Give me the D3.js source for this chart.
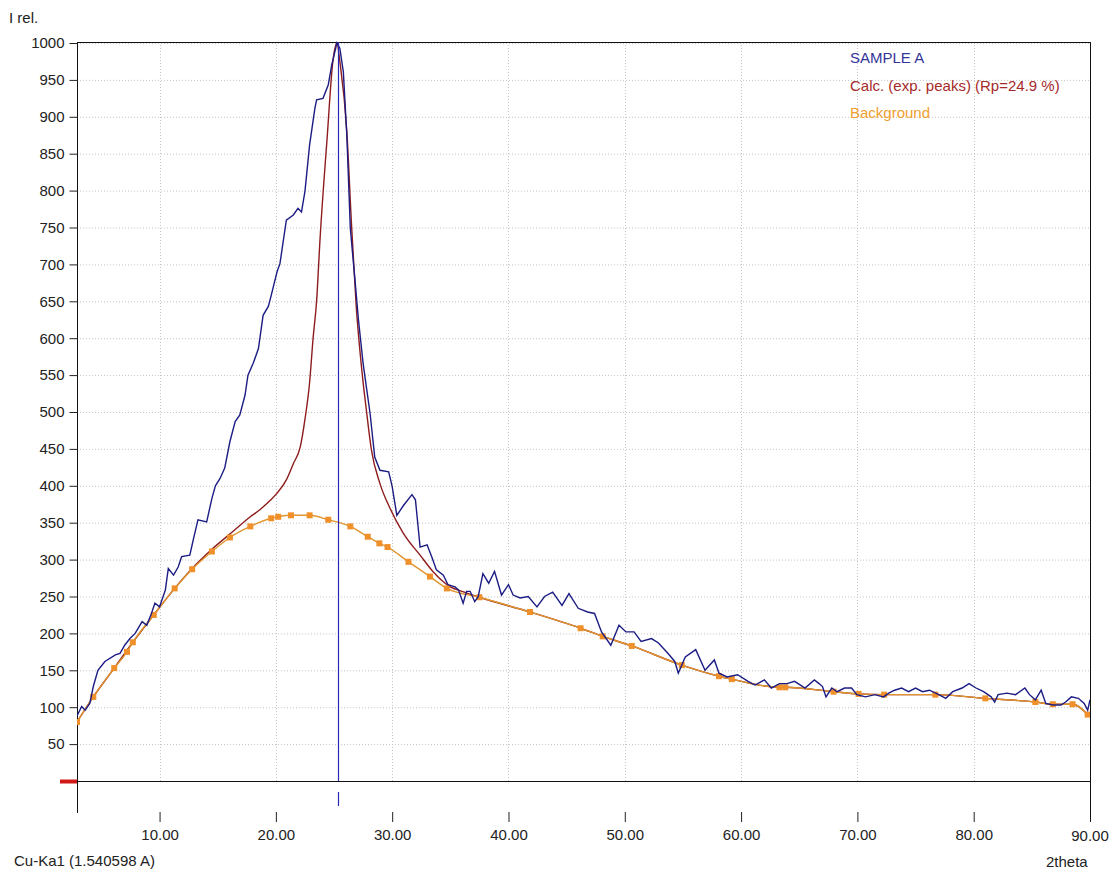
<!DOCTYPE html>
<html><head><meta charset="utf-8">
<script src="https://cdn.jsdelivr.net/npm/d3@7"></script>
<style>
html,body{margin:0;padding:0;background:#fff;}
svg text{font-family:"Liberation Sans",Arial,sans-serif;}
</style></head>
<body>
<svg id="chart" width="1120" height="872"></svg>
<script>
// ---- data ----
const sampleX = [2.9,3.3,3.6,4.0,4.3,4.7,5.3,6.2,6.6,7.0,7.45,7.9,8.5,8.9,9.3,9.6,10.0,10.5,10.75,11.2,11.6,11.9,12.6,12.9,13.3,14.05,14.5,14.8,15.2,15.6,16.05,16.5,16.9,17.35,17.6,18.05,18.5,18.9,19.35,19.6,20.1,20.35,20.9,21.5,21.9,22.2,22.5,22.9,23.35,23.5,24.05,24.5,24.8,25.25,25.5,25.8,26.1,26.4,26.8,27.1,27.5,28.1,28.5,28.95,29.7,30.0,30.4,31.0,31.7,32.0,32.4,33.0,33.4,33.8,34.4,34.8,35.4,35.7,36.1,36.4,36.7,37.1,37.4,37.8,38.3,38.8,39.4,40.0,40.4,41.0,41.7,42.45,43.1,43.8,44.6,45.2,46.0,46.8,47.4,48.0,48.8,49.5,50.1,50.8,51.4,52.3,52.9,53.7,54.3,54.6,55.2,56.1,56.9,57.7,58.1,58.8,59.7,60.6,61.2,62.0,62.6,63.3,63.95,64.6,65.5,66.3,66.7,67.0,67.3,67.8,68.25,68.9,69.5,69.95,70.7,71.5,72.25,72.7,73.2,73.8,74.4,75.0,75.6,76.2,77.0,77.6,78.2,79.0,79.6,80.2,80.85,81.5,81.8,82.1,82.85,83.6,84.4,84.8,85.3,85.8,86.2,86.8,87.5,87.9,88.4,89.0,89.5,89.8,90.0];
const sampleY = [88,101,96,105,128,150,162,171,173,184,193,200,216,211,227,241,236,259,288,279,290,304,306,327,354,351,383,400,410,424,460,487,496,523,550,566,586,631,643,658,690,701,760,767,776,771,799,862,911,923,925,943,970,1000,993,961,875,749,679,625,566,498,439,421,419,399,360,374,388,381,317,320,304,286,279,266,263,259,241,257,257,243,250,281,268,284,252,266,252,248,250,236,250,256,238,254,234,229,227,202,184,211,202,202,189,193,187,173,162,146,168,178,150,164,146,141,144,135,130,137,126,132,132,135,126,137,132,128,114,126,121,126,126,117,114,117,114,119,123,126,121,126,121,123,117,112,121,126,132,126,121,114,107,117,119,117,126,117,110,123,105,103,103,107,114,112,105,96,110];

const calcX = [2.9,4.3,6.1,7.7,9.5,11.3,12.8,14.5,16.3,17.8,18.65,19.5,20.1,20.9,21.5,22.1,22.5,22.9,23.2,23.5,23.8,24.4,24.9,25.25,25.5,26.1,26.5,26.9,27.4,27.8,28.2,28.95,29.8,30.95,32.4,33.5,34.4,35.0,36.0,37.5,41.85,46.2,48.1,50.6,54.9,58.1,59.2,63.3,63.8,67.95,70.1,72.3,76.7,81.0,85.3,86.8,88.5,89.8];
const calcY = [80,114,153,188,225,261,288,314,338,358,368,380,390,408,430,453,490,540,600,650,735,870,975,1000,975,880,755,645,555,500,450,403,370,336,306,284,270,263,257,249,229,207,196,183,157,142,138,127,127,121,118,117,117,112,107,104,104,90];

const bgX = [2.9,4.3,6.1,7.2,7.7,9.5,11.3,12.8,14.5,16.05,17.8,19.6,20.2,21.3,22.9,24.5,26.4,27.9,28.9,29.6,31.4,33.25,34.7,37.5,41.85,46.2,48.1,50.6,54.9,58.1,59.2,63.3,63.8,67.95,70.1,72.3,76.7,81.0,85.3,86.8,88.5,89.8];
const bgY = [80,114,153,175,188,225,261,287,311,330,345,356,358,360,360,354,345,331,322,317,297,277,261,249,229,207,196,183,157,142,138,127,127,121,118,117,117,112,107,104,104,90];

const xTicks = [10,20,30,40,50,60,70,80,90];
const yTicks = d3.range(50, 1001, 50);
const peakPos = 25.3;
const legendLabels = ["SAMPLE A", "Calc. (exp. peaks) (Rp=24.9 %)", "Background"];
const legendColors = ["#35359a", "#a52a2a", "#f0a030"];

// ---- layout ----
const svg = d3.select("#chart");
const FS = 15;
const L = 77, R = 1090, T = 42, B0 = 781;
const x = d3.scaleLinear().domain([2.9, 90]).range([L, R]);
const y = d3.scaleLinear().domain([0, 1000]).range([B0, 43]);

svg.append("defs").append("clipPath").attr("id","clip")
  .append("rect").attr("x",L).attr("y",T-2).attr("width",R-L).attr("height",B0-T+2);

// grid
const grid = svg.append("g");
grid.selectAll(".hg").data(yTicks).join("line")
  .attr("x1",L).attr("x2",R).attr("y1",d=>y(d)+0.5).attr("y2",d=>y(d)+0.5)
  .attr("stroke","#c4c4c4").attr("stroke-dasharray","1,2");
grid.selectAll(".vg").data(xTicks.slice(0,-1)).join("line")
  .attr("x1",d=>Math.round(x(d))+0.5).attr("x2",d=>Math.round(x(d))+0.5).attr("y1",T).attr("y2",B0)
  .attr("stroke","#c4c4c4").attr("stroke-dasharray","1,2");

// frame
svg.append("line").attr("x1",L).attr("x2",R).attr("y1",T+0.5).attr("y2",T+0.5).attr("stroke","#111");
svg.append("line").attr("x1",L).attr("x2",R).attr("y1",B0+0.5).attr("y2",B0+0.5).attr("stroke","#111");
svg.append("line").attr("x1",L+0.5).attr("x2",L+0.5).attr("y1",T).attr("y2",813).attr("stroke","#111");
svg.append("line").attr("x1",R+0.5).attr("x2",R+0.5).attr("y1",T).attr("y2",822).attr("stroke","#111");
svg.append("line").attr("x1",60).attr("x2",L).attr("y1",B0+0.5).attr("y2",B0+0.5).attr("stroke","#d01818").attr("stroke-width",4);

// y axis
const yAxis = svg.append("g").attr("transform",`translate(${L+0.5},0)`)
  .call(d3.axisLeft(y).tickValues(yTicks).tickSize(8).tickPadding(5).tickFormat(d3.format("d")));
yAxis.select(".domain").remove();
yAxis.selectAll("line").attr("stroke","#222");
yAxis.selectAll("text").attr("font-size",FS).attr("fill","#222");

// x axis (ticks below plot)
const xAxis = svg.append("g").attr("transform","translate(0,812)")
  .call(d3.axisBottom(x).tickValues(xTicks.slice(0,-1)).tickSize(10).tickPadding(7).tickFormat(d3.format(".2f")));
xAxis.select(".domain").remove();
xAxis.selectAll("line").attr("stroke","#222");
xAxis.selectAll("text").attr("font-size",FS).attr("fill","#222");
svg.append("text").attr("x",x(90)).attr("y",841).attr("text-anchor","middle")
  .attr("font-size",FS).attr("fill","#222").text(d3.format(".2f")(90));

// lines
const plot = svg.append("g").attr("clip-path","url(#clip)");
const lineGen = d3.line().x(d=>x(d[0])).y(d=>y(d[1]));

const calcData = calcX.map((v,i)=>[v,calcY[i]]);
const bgData = bgX.map((v,i)=>[v,bgY[i]]);
const sampleData = sampleX.map((v,i)=>[v,sampleY[i]]);

plot.append("path").datum(calcData).attr("d",lineGen.curve(d3.curveMonotoneX))
  .attr("fill","none").attr("stroke","#8e1c1c").attr("stroke-width",1.4);
plot.append("path").datum(bgData).attr("d",lineGen.curve(d3.curveMonotoneX))
  .attr("fill","none").attr("stroke","#e0952e").attr("stroke-width",1.4);
plot.selectAll(".bgpt").data(bgData).join("rect")
  .attr("x",d=>x(d[0])-3).attr("y",d=>y(d[1])-3).attr("width",6).attr("height",6)
  .attr("fill","#f0902a");
plot.append("path").datum(sampleData).attr("d",lineGen.curve(d3.curveLinear))
  .attr("fill","none").attr("stroke","#1c1c84").attr("stroke-width",1.4);

// peak marker
svg.append("line").attr("x1",Math.round(x(peakPos))+0.5).attr("x2",Math.round(x(peakPos))+0.5)
  .attr("y1",T).attr("y2",B0).attr("stroke","#2828b4").attr("stroke-width",1.2);
svg.append("line").attr("x1",Math.round(x(peakPos))+0.5).attr("x2",Math.round(x(peakPos))+0.5)
  .attr("y1",792).attr("y2",806).attr("stroke","#2828b4").attr("stroke-width",1.2);

// legend
svg.selectAll(".leg").data(legendLabels).join("text")
  .attr("x",850).attr("y",(d,i)=>63+i*27.5).attr("font-size",FS)
  .attr("fill",(d,i)=>legendColors[i]).text(d=>d);

// labels
svg.append("text").attr("x",9).attr("y",23).attr("font-size",FS).attr("fill","#222").text("I rel.");
svg.append("text").attr("x",14).attr("y",866).attr("font-size",FS).attr("fill","#222").text("Cu-Ka1 (1.540598 A)");
svg.append("text").attr("x",1046).attr("y",867).attr("font-size",FS).attr("fill","#222").text("2theta");
</script>
</body></html>
